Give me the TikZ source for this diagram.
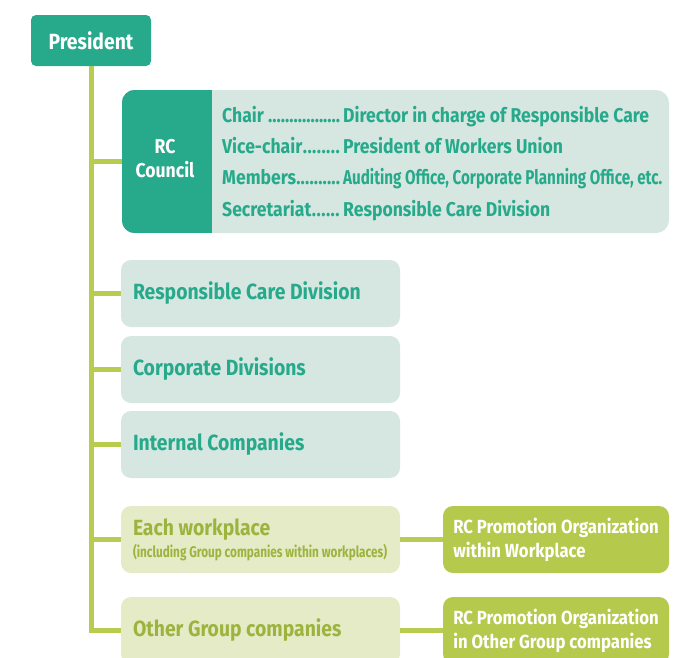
\documentclass[tikz,border=0pt]{standalone}
\usepackage{fontspec}
\setmainfont{Fira Sans}[FakeStretch=0.88]
\newfontfamily\narrowfont{Fira Sans}[FakeStretch=0.76]
\definecolor{rcteal}{RGB}{39,169,139}
\definecolor{tealbg}{RGB}{214,231,225}
\definecolor{linegreen}{RGB}{184,204,80}
\definecolor{greenbg}{RGB}{229,235,198}
\definecolor{greentext}{RGB}{156,180,62}
\definecolor{promogreen}{RGB}{181,201,76}
% role names with dot leaders up to the second column
\newcommand{\rolename}[1]{\makebox[121pt][l]{#1\xleaders\hbox{.}\hfill\kern3pt}}

\begin{document}
\begin{tikzpicture}[x=1pt,y=-1pt,
  link/.style={draw=linegreen,line width=5pt},
  box/.style={rectangle,rounded corners=10pt,minimum width=279pt,minimum height=67pt,inner xsep=12pt,text width=255pt,align=flush left,
    execute at begin node={\spaceskip=0pt\xspaceskip=0pt\hyphenpenalty=10000},font=\fontsize{22}{26}\selectfont\bfseries},
  teal box/.style={box,fill=tealbg,text=rcteal},
  green box/.style={box,fill=greenbg,text=greentext},
  promo box/.style={rectangle,rounded corners=10pt,fill=promogreen,text=white,minimum width=226pt,minimum height=67pt,align=left,font=\fontsize{19}{24}\selectfont\bfseries},
  line text/.style={anchor=base west,inner sep=0pt,text=rcteal,font=\fontsize{20}{24}\selectfont\bfseries}]
  \useasboundingbox (0,0) rectangle (687,657);
  \clip (0,0) rectangle (687,657);

  \node[rectangle,rounded corners=5pt,fill=rcteal,text=white,minimum width=120pt,minimum height=51pt,font=\fontsize{22}{26}\selectfont\bfseries] (president) at (91,40.5) {President};

  % RC council with its members
  \node[rectangle,rounded corners=13pt,fill=tealbg,minimum width=547pt,minimum height=143pt] (council) at (395.5,161.5) {};
  \begin{scope}
    \clip[rounded corners=13pt] (council.north west) rectangle (council.south east);
    \fill[rcteal] (council.north west) rectangle ([xshift=90pt]council.south west);
  \end{scope}
  \node[align=center,text=white,font=\fontsize{20}{24}\selectfont\bfseries] (rc) at (165,159) {RC\\Council};
  \node[line text] (chair) at (222,122) {\rolename{Chair }};
  \node[line text] (chairname) at (343,122) {Director in charge of Responsible Care};
  \node[line text] (vice) at (222,153) {\rolename{Vice-chair}};
  \node[line text] (vicename) at (343,153) {President of Workers Union};
  \node[line text] (members) at (222,184) {\rolename{Members}};
  \node[line text] (membersname) at (343,184) {\narrowfont Auditing Office, Corporate Planning Office, etc.};
  \node[line text] (secr) at (222,216) {\rolename{Secretariat}};
  \node[line text] (secrname) at (343,216) {Responsible Care Division};

  % divisions
  \node[teal box] (rcdiv) at (260.5,293.5) {Responsible Care Division};
  \node[teal box] (corpdiv) at (260.5,369.5) {Corporate Divisions};
  \node[teal box] (intcomp) at (260.5,444.5) {Internal Companies};
  \node[green box] (workplace) at (260.5,539.5) {Each workplace\\[-4pt]{\narrowfont\fontsize{15.5}{18}\selectfont (including Group companies within workplaces)}};
  \node[green box] (othergroup) at (260.5,630.5) {Other Group companies};
  \node[promo box] (promowork) at (556,539.5) {RC Promotion Organization\\within Workplace};
  \node[promo box] (promoother) at (556,630.5) {RC Promotion Organization\\in Other Group companies};

  \draw[link] (president.south) |- (council.west);
  \draw[link] (president.south) |- (rcdiv.west);
  \draw[link] (president.south) |- (corpdiv.west);
  \draw[link] (president.south) |- (intcomp.west);
  \draw[link] (president.south) |- (workplace.west);
  \draw[link] (president.south) |- (othergroup.west);
  \draw[link] (workplace.east) -- (promowork.west);
  \draw[link] (othergroup.east) -- (promoother.west);
\end{tikzpicture}
\end{document}
